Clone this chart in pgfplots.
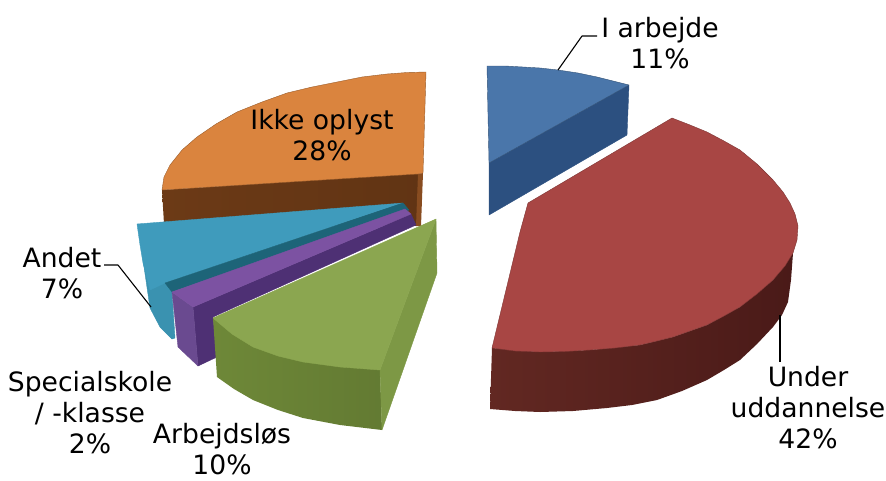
\documentclass[border=0pt]{standalone}
\usepackage{pgfplots}
\pgfplotsset{compat=1.18}
\usepackage{fontspec}
\setmainfont{DejaVu Sans}
\definecolor{bluetop}{HTML}{4A76AA}
\definecolor{blueside}{HTML}{2C5080}
\definecolor{redtop}{HTML}{A84644}
\definecolor{redsideA}{HTML}{622822}
\definecolor{redsideB}{HTML}{4A1A18}
\definecolor{orangetop}{HTML}{DA843E}
\definecolor{orangeside}{HTML}{6C3A16}
\definecolor{tealtop}{HTML}{3F9BBC}
\definecolor{tealside}{HTML}{3A92B0}
\definecolor{tealdark}{HTML}{1D6478}
\definecolor{purpletop}{HTML}{7C52A2}
\definecolor{purpleside}{HTML}{6A4A90}
\definecolor{purpledark}{HTML}{4E3074}
\definecolor{greentop}{HTML}{8BA650}
\definecolor{greenfront}{HTML}{6E8838}
\definecolor{greenright}{HTML}{7D9845}
\tikzset{lab/.style={font=\fontsize{26.6}{31}\selectfont, align=center, text=black, inner sep=0pt}}
\begin{document}
\begin{tikzpicture}
\begin{axis}[
  width=886pt, height=480pt, scale only axis,
  xmin=0, xmax=886, ymin=0, ymax=480, y dir=reverse,
  hide axis, clip=false,
  every axis plot/.append style={no markers, line join=round},
]
\path (axis cs:0,0) rectangle (axis cs:886,480);
% Ikke oplyst
\addplot[left color=orangeside, right color=orangeside!90!black, draw=none] coordinates {(162,190)(418,173)(420,226)(164,224)} -- cycle;
\addplot[fill=orangeside!75!orangetop, draw=none] coordinates {(418,174)(423,173)(421,226)(416,226)} -- cycle;
\addplot[fill=orangetop, draw=orangetop!70!black, line width=0.4pt] coordinates {(426,72)(407,72.5)(387,74)(362,77)(337,82)(312,87)(287,93)(262,102)(237,112)(216,124)(197,137)(182,150)(170,165)(164,177)(162,190)(418,174)(423,173)} -- cycle;
% Andet
\addplot[fill=tealside, draw=tealside] coordinates {(165,283)(172,292)(175,338)(172,339)(160,327)(150,308)(142,253)} -- cycle;
\addplot[fill=tealtop, draw=tealtop] coordinates {(137,224)(403,203)(165,283)(150,290)(143,263)(140,245)} -- cycle;
\addplot[fill=tealdark, draw=tealdark] coordinates {(165,283)(403,203)(409,210)(172,292)} -- cycle;
% Specialskole
\addplot[fill=purpledark, draw=purpledark] coordinates {(193,307)(411,214)(416,225)(213,317)(217,357)(198,366)} -- cycle;
\addplot[fill=purpleside, draw=purpleside] coordinates {(172,292)(193,307)(198,366)(178,347)} -- cycle;
\addplot[fill=purpletop, draw=purpletop] coordinates {(172,292)(405,209)(411,214)(193,307)} -- cycle;
% Arbejdsløs
\addplot[left color=greenfront, right color=greenfront!90!black, draw=none] coordinates {(213,318)(217,377)(234,389)(253,400)(278,410)(303,418)(340,425)(382,430)(380,370)} -- cycle;
\addplot[fill=greenright, draw=greenright] coordinates {(436,219)(437,273)(382,430)(380,370)} -- cycle;
\addplot[fill=greentop, draw=greentop] coordinates {(436,219)(213,318)(232,334)(253,347)(278,356)(303,362)(340,367)(380,370)} -- cycle;
% I arbejde
\addplot[fill=blueside, draw=blueside] coordinates {(489,163)(629,85)(627,135)(489,215)} -- cycle;
\addplot[fill=bluetop, draw=bluetop!70!black, line width=0.4pt] coordinates {(487,66)(505,66)(523,67)(540,68)(558,70)(578,73)(597,77)(613,81)(629,85)(489,163)} -- cycle;
% Under uddannelse
\addplot[left color=redsideA, right color=redsideB, draw=none] coordinates {(492,348)(540,352)(590,350)(640,345)(673,337)(707,325)(740,307)(773,280)(793,253)(791,280)(788,302)(782,315)(773,327)(757,344)(740,360)(724,370)(707,380)(682,391)(657,400)(632,405)(607,408)(573,411)(540,412)(515,411)(490,409)} -- cycle;
\addplot[fill=redtop, draw=redtop!75!black, line width=0.4pt] coordinates {(672,118)(690,125)(707,132)(724,141)(740,150)(757,164)(773,180)(783,192)(790,203)(795,214)(798,226)(797,240)(793,253)(785,266)(773,280)(757,294)(740,307)(724,316)(707,325)(690,331)(673,337)(657,341)(640,345)(615,348)(590,350)(565,351.5)(540,352)(515,351)(492,348)(506,290)(520,232)(528,203)} -- cycle;
% leaders
\addplot[black, line width=1.1pt] coordinates {(558,70)(582,36)(597,36)};
\addplot[black, line width=1.1pt] coordinates {(780,315)(780,362)};
\addplot[black, line width=1.1pt] coordinates {(104,265)(118,265)(151,307)};
% labels
\node[lab] at (axis cs:660,43) {I arbejde\\11\%};
\node[lab] at (axis cs:808,408) {Under\\uddannelse\\42\%};
\node[lab] at (axis cs:322,135) {Ikke oplyst\\28\%};
\node[lab] at (axis cs:62,273) {Andet\\7\%};
\node[lab] at (axis cs:90,413) {Specialskole\\/ -klasse\\2\%};
\node[lab] at (axis cs:222,449) {Arbejdsløs\\10\%};
\end{axis}
\end{tikzpicture}
\end{document}
